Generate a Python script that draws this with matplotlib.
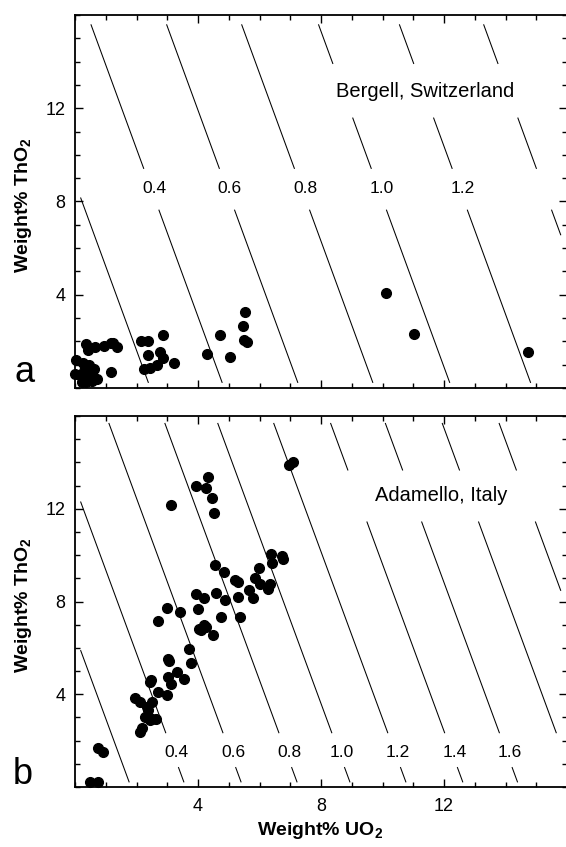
import numpy as np
import matplotlib.pyplot as plt
from matplotlib.ticker import MultipleLocator

plt.rcParams['font.family'] = ['Liberation Sans', 'DejaVu Sans']
plt.rcParams['mathtext.fontset'] = 'custom'
plt.rcParams['mathtext.rm'] = 'Liberation Sans'
plt.rcParams['mathtext.bf'] = 'Liberation Sans:bold'

# panel a - Bergell, weight% UO2 vs ThO2
bergell_uo2 = [0.02, 0.0, 0.36, 0.42, 0.65, 0.95, 1.18, 1.25, 1.38, 0.27, 0.45,
               0.62, 0.16, 0.36, 0.52, 0.72, 0.22, 0.44, 0.30, 0.55, 1.18, 2.15,
               2.37, 2.85, 2.39, 2.78, 2.87, 2.68, 2.45, 2.23, 3.21, 4.28, 4.70,
               5.03, 5.52, 5.45, 5.48, 5.58, 10.12, 11.02, 14.74]
bergell_tho2 = [1.20, 0.60, 1.89, 1.62, 1.77, 1.80, 1.94, 1.92, 1.76, 1.06, 0.97,
                0.82, 0.54, 0.27, 0.60, 0.40, 0.25, 0.50, 0.75, 0.30, 0.67, 2.03,
                2.03, 2.28, 1.40, 1.56, 1.28, 1.00, 0.85, 0.82, 1.06, 1.46, 2.28,
                1.33, 3.27, 2.67, 2.06, 1.98, 4.06, 2.32, 1.53]

# panel b - Adamello
adamello_uo2 = [6.95, 7.10, 4.32, 3.94, 4.25, 4.47, 4.52, 3.12, 4.54, 4.85, 5.21,
                5.29, 5.98, 6.38, 6.40, 6.73, 6.76, 5.86, 6.00, 6.35, 6.28, 5.65,
                5.79, 5.30, 4.89, 4.57, 3.93, 4.18, 4.01, 3.40, 2.99, 2.71, 5.37,
                4.76, 4.02, 4.20, 4.27, 4.10, 4.49, 3.71, 3.04, 3.06, 3.78, 3.33,
                3.55, 3.01, 3.12, 2.44, 2.47, 2.71, 2.99, 1.95, 2.12, 2.50, 2.33,
                2.39, 2.28, 2.50, 2.64, 2.44, 2.17, 2.12, 0.76, 0.92, 0.49, 0.76]
adamello_tho2 = [13.90, 14.00, 13.39, 12.99, 12.89, 12.47, 11.80, 12.18, 9.57, 9.28,
                 8.91, 8.85, 9.45, 10.06, 9.67, 9.96, 9.82, 9.03, 8.74, 8.74, 8.55,
                 8.49, 8.17, 8.21, 8.07, 8.36, 8.31, 8.17, 7.67, 7.55, 7.74, 7.14,
                 7.35, 7.31, 6.81, 7.00, 6.88, 6.75, 6.55, 5.95, 5.52, 5.44, 5.33,
                 4.97, 4.66, 4.73, 4.45, 4.52, 4.60, 4.09, 3.98, 3.85, 3.66, 3.66,
                 3.45, 3.30, 3.02, 2.95, 2.95, 2.88, 2.56, 2.37, 1.69, 1.49, 0.20, 0.23]

# reference lines: label and the UO2 value where each line meets ThO2 = 0
bergell_line_labels = [0.2, 0.4, 0.6, 0.8, 1.0, 1.2, 1.4]
bergell_line_x0 = [2.45, 4.85, 7.31, 9.75, 12.25, 14.88, 17.62]
adamello_line_labels = [0.2, 0.4, 0.6, 0.8, 1.0, 1.2, 1.4, 1.6, 1.8, 2.0]
adamello_line_x0 = [1.82, 3.60, 5.46, 7.28, 9.00, 10.82, 12.67, 14.45, 16.30, 18.15]
line_slope = 3.6  # wt% ThO2 per wt% UO2 along a line


def split_range(lo, hi, gaps):
    segs = [(lo, hi)]
    for g0, g1 in gaps:
        new = []
        for a, b in segs:
            if b <= g0 or a >= g1:
                new.append((a, b))
                continue
            if a < g0:
                new.append((a, g0))
            if b > g1:
                new.append((g1, b))
        segs = new
    return segs


def draw_ref_lines(ax, labels, x0s, y_lo, y_hi, label_y, label_gap, labelled,
                   text_gap, text_from):
    for lab, x0 in zip(labels, x0s):
        lo = max(y_lo, line_slope * (x0 - 15.8))
        hi = min(y_hi, line_slope * (x0 - 0.18))
        gaps = []
        if lab >= labelled[0]:
            gaps.append(label_gap)
        if lab >= text_from:
            gaps.append(text_gap)
        for a, b in split_range(lo, hi, gaps):
            if b <= a:
                continue
            ys = np.array([a, b])
            ax.plot(x0 - ys / line_slope, ys, color='black', lw=0.75,
                    solid_capstyle='butt')
        if lab in labelled:
            ax.text(x0 - label_y / line_slope + 0.1, label_y, '%.1f' % lab,
                    ha='center', va='center', fontsize=12.5)


def setup_axes(ax, show_x):
    ax.set_xlim(0, 16)
    ax.set_ylim(0, 16)
    ax.set_xticks([4, 8, 12])
    ax.set_yticks([4, 8, 12])
    ax.xaxis.set_minor_locator(MultipleLocator(1))
    ax.yaxis.set_minor_locator(MultipleLocator(1))
    ax.tick_params(which='both', direction='in', top=True, right=True,
                   width=1.0, labelsize=13)
    ax.tick_params(which='major', length=6)
    ax.tick_params(which='minor', length=3.5)
    ax.tick_params(axis='y', pad=7)
    ax.tick_params(axis='x', pad=8, labelbottom=show_x)
    for sp in ax.spines.values():
        sp.set_linewidth(1.3)


fig = plt.figure(figsize=(5.66, 8.47), dpi=100)
ax_a = fig.add_axes([75 / 566, 1 - 388 / 847, 492 / 566, 373 / 847])
ax_b = fig.add_axes([75 / 566, 1 - 787 / 847, 492 / 566, 371 / 847])

setup_axes(ax_a, False)
setup_axes(ax_b, True)

draw_ref_lines(ax_a, bergell_line_labels, bergell_line_x0, 0.22, 15.6,
               8.54, (7.65, 9.4), [0.4, 0.6, 0.8, 1.0, 1.2],
               (11.6, 13.9), 1.0)
draw_ref_lines(ax_b, adamello_line_labels, adamello_line_x0, 0.2, 15.7,
               1.5, (0.86, 2.32), [0.4, 0.6, 0.8, 1.0, 1.2, 1.4, 1.6],
               (11.45, 13.65), 1.4)

ax_a.plot(bergell_uo2, bergell_tho2, 'o', color='black', ms=7, clip_on=False)
ax_b.plot(adamello_uo2, adamello_tho2, 'o', color='black', ms=7, clip_on=False)

ax_a.text(11.37, 12.7, 'Bergell, Switzerland', ha='center', va='center',
          fontsize=14.5)
ax_b.text(11.9, 12.55, 'Adamello, Italy', ha='center', va='center',
          fontsize=14.5)

ylab = r'Weight% ThO$_\mathbf{2}$'
fig.text(23 / 566, 1 - 205 / 847, ylab, rotation=90, ha='center', va='center',
         fontsize=14, fontweight='bold')
fig.text(23 / 566, 1 - 605 / 847, ylab, rotation=90, ha='center', va='center',
         fontsize=14, fontweight='bold')
fig.text(320 / 566, 1 - 830 / 847, r'Weight% UO$_\mathbf{2}$', ha='center',
         va='center', fontsize=14, fontweight='bold')

fig.text(14 / 566, 1 - 382 / 847, 'a', fontsize=26, ha='left', va='baseline')
fig.text(13 / 566, 1 - 784 / 847, 'b', fontsize=26, ha='left', va='baseline')

fig.savefig('out.png', dpi=100)
